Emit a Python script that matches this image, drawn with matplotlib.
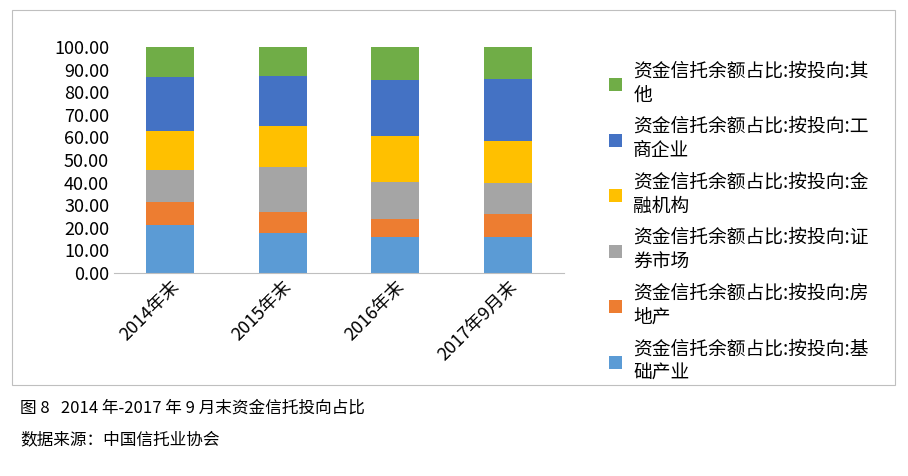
import matplotlib
matplotlib.use("Agg")
import matplotlib.pyplot as plt
import numpy as np
from matplotlib.patches import Rectangle

plt.rcParams['font.family'] = ['Noto Sans CJK SC', 'DejaVu Sans']

categories = ["2014年末", "2015年末", "2016年末", "2017年9月末"]
series_names = ["资金信托余额占比:按投向:基础产业", "资金信托余额占比:按投向:房地产",
                "资金信托余额占比:按投向:证券市场", "资金信托余额占比:按投向:金融机构",
                "资金信托余额占比:按投向:工商企业", "资金信托余额占比:按投向:其他"]
legend_labels = ["资金信托余额占比:按投向:基\n础产业", "资金信托余额占比:按投向:房\n地产",
                 "资金信托余额占比:按投向:证\n券市场", "资金信托余额占比:按投向:金\n融机构",
                 "资金信托余额占比:按投向:工\n商企业", "资金信托余额占比:按投向:其\n他"]
infra = [21.2, 17.7, 15.9, 15.9]
realestate = [10.2, 9.3, 8.0, 10.2]
securities = [14.2, 19.9, 16.4, 13.7]
financial = [17.2, 18.1, 20.3, 18.6]
industrial = [23.9, 22.2, 24.8, 27.4]
other = [13.3, 12.8, 14.6, 14.2]
colors = ["#5B9BD5", "#ED7D31", "#A5A5A5", "#FFC000", "#4472C4", "#70AD47"]

fig = plt.figure(figsize=(9.08, 4.76), dpi=100)
fig.add_artist(Rectangle((12/908, 1-385/476), 883/908, 375/476, transform=fig.transFigure,
                         fill=False, ec="#BFBFBF", lw=0.8))
ax = fig.add_axes([114/908, 1-273/476, 450/908, 226/476])
x = np.arange(len(categories))
bottom = np.zeros(4)
handles = []
for vals, c in zip([infra, realestate, securities, financial, industrial, other], colors):
    h = ax.bar(x, vals, 0.43, bottom=bottom, color=c)
    handles.append(h)
    bottom += np.array(vals)
ax.set_ylim(0, 100)
ax.set_xlim(-0.5, 3.5)
ax.set_yticks(np.arange(0, 101, 10))
ax.set_yticklabels([f"{v:.2f}" for v in range(0, 101, 10)], fontsize=13)
ax.set_xticks(x)
ax.set_xticklabels(categories, rotation=45, ha="right", rotation_mode="anchor", fontsize=13)
for s in ["top", "right", "left"]:
    ax.spines[s].set_visible(False)
ax.spines["bottom"].set_color("#BFBFBF")
ax.tick_params(length=0)
fig.legend(handles[::-1], legend_labels[::-1], loc="center left", bbox_to_anchor=(592/908, 1-222/476),
           frameon=False, fontsize=13.5, handlelength=0.7, handleheight=0.7, labelspacing=0.55,
           handletextpad=0.6)
fig.text(20/908, 1-408/476, "图 8   2014 年-2017 年 9 月末资金信托投向占比", fontsize=12, va="center")
fig.text(20/908, 1-440/476, "数据来源：中国信托业协会", fontsize=12, va="center")
fig.savefig("out.png", dpi=100)
